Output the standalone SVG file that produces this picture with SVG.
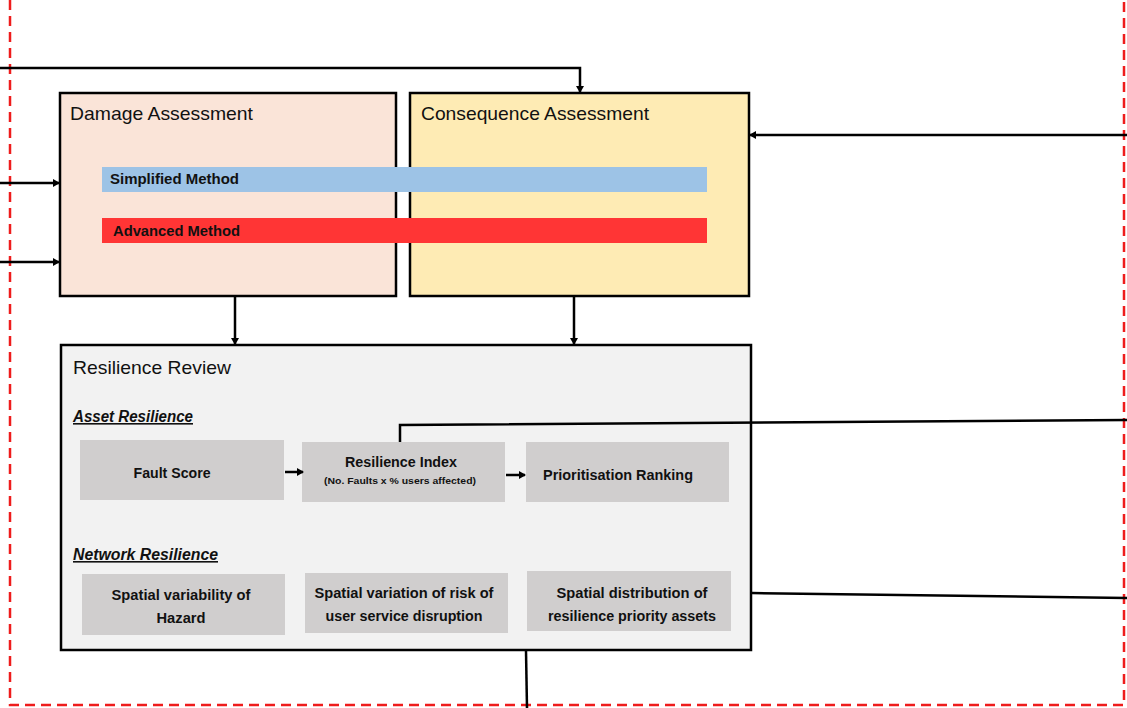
<svg xmlns="http://www.w3.org/2000/svg" width="1127" height="708" viewBox="0 0 1127 708">
<style>
.t{font-family:"Liberation Sans",Arial,sans-serif;fill:#111}
.title{font-size:19px}
.bold{font-weight:bold}
.sub{font-size:16px;font-style:italic;font-weight:bold;text-decoration:underline}
.box{font-size:14px;font-weight:bold}
.small{font-size:9.5px;font-weight:bold}
.con{fill:none;stroke:#000;stroke-width:2.5}
.inner{fill:#D0CECE}
</style>
<defs>
<marker id="ah" markerWidth="8" markerHeight="8" refX="6" refY="4" orient="auto" markerUnits="userSpaceOnUse">
<path d="M0,0 L7,4 L0,8 z" fill="#000"/>
</marker>
</defs>
<rect x="0" y="0" width="1127" height="708" fill="#fff"/>
<path d="M10,0 V705 H1124 V0" fill="none" stroke="#EE1C1C" stroke-width="2.5" stroke-dasharray="10,6"/>

<g id="damage">
<rect x="60" y="93" width="336" height="203" fill="#FAE4D8" stroke="#000" stroke-width="2.5"/>
<text class="t title" x="70" y="120" textLength="183" lengthAdjust="spacingAndGlyphs">Damage Assessment</text>
</g>
<g id="consequence">
<rect x="410" y="93" width="339" height="203" fill="#FEEBB4" stroke="#000" stroke-width="2.5"/>
<text class="t title" x="421" y="120" textLength="228" lengthAdjust="spacingAndGlyphs">Consequence Assessment</text>
</g>
<g id="simplified">
<rect x="102" y="167" width="605" height="25" fill="#9DC3E6"/>
<text class="t bold" x="110" y="184" font-size="14" textLength="129" lengthAdjust="spacingAndGlyphs">Simplified Method</text>
</g>
<g id="advanced">
<rect x="102" y="218" width="605" height="25" fill="#FF3535"/>
<text class="t bold" x="113" y="236" font-size="14" textLength="127" lengthAdjust="spacingAndGlyphs">Advanced Method</text>
</g>

<g id="resilience-review">
<rect x="61" y="345" width="690" height="305" fill="#F2F2F2" stroke="#000" stroke-width="2.5"/>
<text class="t title" x="73" y="374" textLength="158" lengthAdjust="spacingAndGlyphs">Resilience Review</text>
<text class="t sub" x="73" y="422" textLength="120" lengthAdjust="spacingAndGlyphs">Asset Resilience</text>
<text class="t sub" x="73" y="560" textLength="145" lengthAdjust="spacingAndGlyphs">Network Resilience</text>
</g>
<g id="fault-score">
<rect class="inner" x="80" y="440" width="204" height="60"/>
<text class="t box" x="172" y="478" text-anchor="middle" textLength="77" lengthAdjust="spacingAndGlyphs">Fault Score</text>
</g>
<g id="resilience-index">
<rect class="inner" x="302" y="442" width="203" height="60"/>
<text class="t box" x="401" y="467" text-anchor="middle" textLength="112" lengthAdjust="spacingAndGlyphs">Resilience Index</text>
<text class="t small" x="400" y="484" text-anchor="middle" textLength="152" lengthAdjust="spacingAndGlyphs">(No. Faults x % users affected)</text>
</g>
<g id="prioritisation">
<rect class="inner" x="526" y="442" width="203" height="60"/>
<text class="t box" x="543" y="480" textLength="150" lengthAdjust="spacingAndGlyphs">Prioritisation Ranking</text>
</g>
<g id="spatial-hazard">
<rect class="inner" x="82" y="574" width="203" height="61"/>
<text class="t box" x="181" y="600" text-anchor="middle" textLength="139" lengthAdjust="spacingAndGlyphs">Spatial variability of</text>
<text class="t box" x="181" y="623" text-anchor="middle" textLength="49" lengthAdjust="spacingAndGlyphs">Hazard</text>
</g>
<g id="spatial-risk">
<rect class="inner" x="305" y="573" width="203" height="60"/>
<text class="t box" x="404" y="598" text-anchor="middle" textLength="179" lengthAdjust="spacingAndGlyphs">Spatial variation of risk of</text>
<text class="t box" x="404" y="621" text-anchor="middle" textLength="157" lengthAdjust="spacingAndGlyphs">user service disruption</text>
</g>
<g id="spatial-priority">
<rect class="inner" x="527" y="571" width="204" height="60"/>
<text class="t box" x="632" y="598" text-anchor="middle" textLength="151" lengthAdjust="spacingAndGlyphs">Spatial distribution of</text>
<text class="t box" x="632" y="621" text-anchor="middle" textLength="168" lengthAdjust="spacingAndGlyphs">resilience priority assets</text>
</g>

<g id="connectors">
<path class="con" d="M0,68 H580 V92" marker-end="url(#ah)"/>
<path class="con" d="M0,183 H59" marker-end="url(#ah)"/>
<path class="con" d="M0,262 H59" marker-end="url(#ah)"/>
<path class="con" d="M1127,135 H750" marker-end="url(#ah)"/>
<path class="con" d="M235,297 V344" marker-end="url(#ah)"/>
<path class="con" d="M574,297 V344" marker-end="url(#ah)"/>
<path class="con" d="M285,472 H303" marker-end="url(#ah)"/>
<path class="con" d="M506,475 H525" marker-end="url(#ah)"/>
<path class="con" d="M400,442 V425 L1127,420"/>
<path class="con" d="M752,593 L1127,598"/>
<path class="con" d="M526,651 L527,708"/>
</g>
</svg>
